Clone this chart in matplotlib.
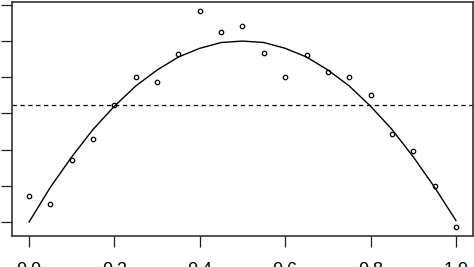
import numpy as np
import matplotlib
matplotlib.use("Agg")
import matplotlib.pyplot as plt

x = [0.00, 0.05, 0.10, 0.15, 0.20, 0.25, 0.30, 0.35, 0.40, 0.45, 0.50,
     0.55, 0.60, 0.65, 0.70, 0.75, 0.80, 0.85, 0.90, 0.95, 1.00]
y_obs = [0.036, 0.025, 0.086, 0.115, 0.161, 0.200, 0.194, 0.232, 0.292, 0.262, 0.271,
         0.233, 0.201, 0.231, 0.207, 0.201, 0.176, 0.122, 0.098, 0.050, -0.007]
# fitted curve at the same x values
y_fit = [0.000, 0.048, 0.090, 0.128, 0.160, 0.188, 0.210, 0.228, 0.240, 0.248, 0.250,
         0.248, 0.240, 0.228, 0.210, 0.188, 0.160, 0.128, 0.090, 0.048, 0.002]
level = 0.162
xticks = [0.0, 0.2, 0.4, 0.6, 0.8, 1.0]
xticklabels = ["0.0", "0.2", "0.4", "0.6", "0.8", "1.0"]
yticks = [0.0, 0.05, 0.10, 0.15, 0.20, 0.25, 0.30]

plt.rcParams['font.family'] = ['Liberation Sans', 'DejaVu Sans']

fig = plt.figure(figsize=(4.74, 2.67), dpi=100)
ax = fig.add_axes([12/474, 31/267, 461/474, 234/267])

ax.plot(x, y_fit, color='black', lw=1.0)
ax.plot(x, y_obs, 'o', mfc='none', mec='black', ms=3.2, mew=0.9)
ax.axhline(level, color='black', lw=0.9, linestyle=(0, (3.5, 2.8)))

ax.set_xlim(-0.04, 1.04)
ax.set_ylim(-0.0194, 0.304)
ax.set_xticks(xticks)
ax.set_xticklabels(xticklabels, fontsize=13)
ax.set_yticks(yticks)
ax.set_yticklabels([])
ax.tick_params(direction='out', length=8, width=0.9, color='#222222')
ax.tick_params(axis='x', pad=11)
for s in ax.spines.values():
    s.set_color('#333333')
    s.set_linewidth(1.2)

fig.savefig("out.png", dpi=100)
